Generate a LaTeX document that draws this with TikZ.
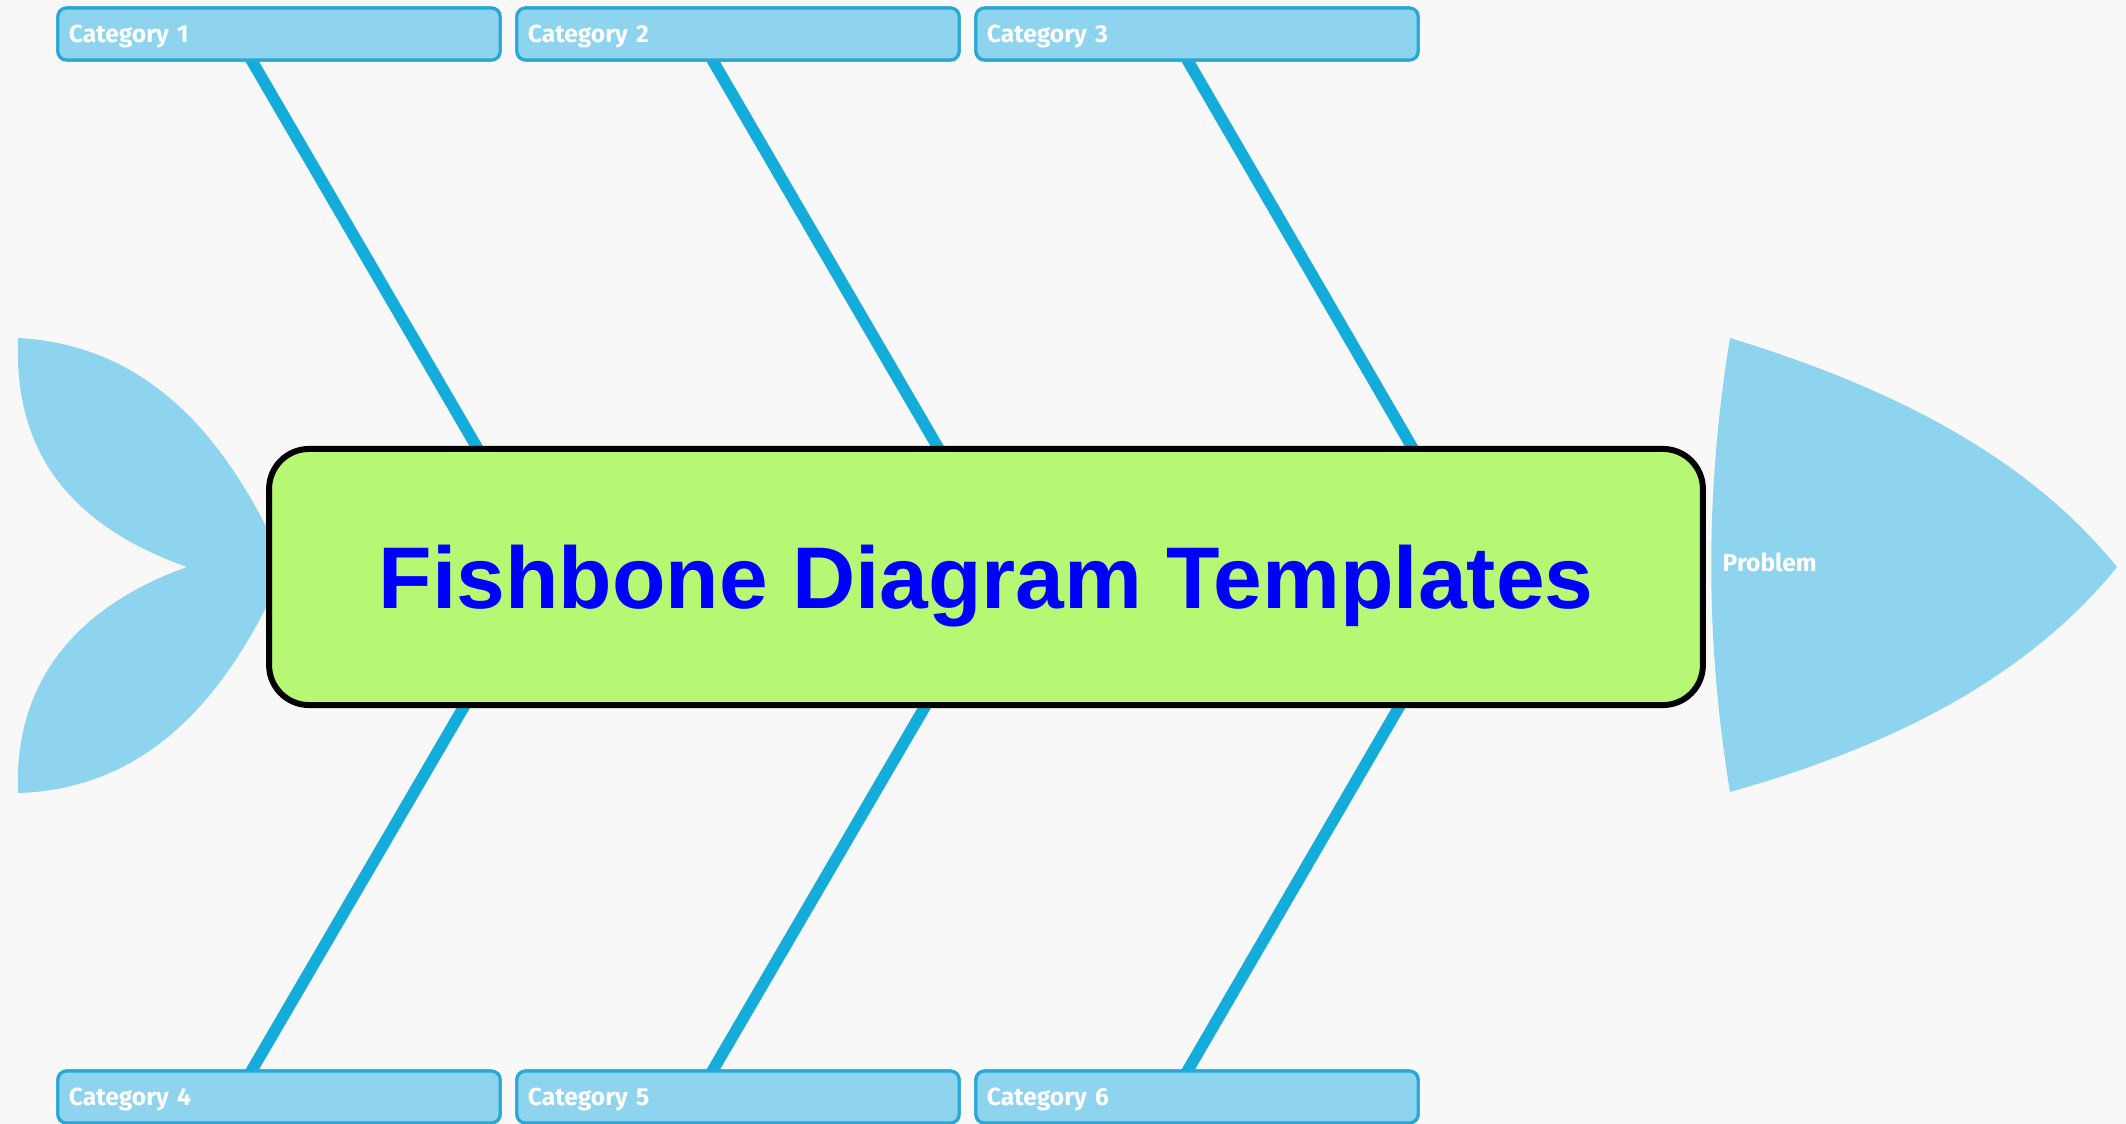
\documentclass[tikz,border=0pt]{standalone}
\usepackage{fontspec}
\setmainfont{Liberation Sans}
\newfontfamily\catfont{Fira Sans}
\usetikzlibrary{calc}
\definecolor{bgc}{HTML}{F8F8F8}
\definecolor{bonec}{RGB}{20,172,218}
\definecolor{finc}{RGB}{143,212,238}
\definecolor{catfill}{RGB}{143,212,238}
\definecolor{catdraw}{RGB}{40,168,214}
\definecolor{titlefill}{RGB}{182,248,116}
\begin{document}
\begin{tikzpicture}[x=0.01cm,y=-0.01cm,
  catbox/.style={draw=catdraw, line width=0.9pt, fill=catfill, rounded corners=2.5pt,
    minimum width=4.42cm, minimum height=0.52cm, text width=4.2cm, align=left,
    inner xsep=0.1cm, text height=4.8pt, text depth=0pt,
    font=\catfont\bfseries\fontsize{7}{8}\selectfont, text=white},
  bone/.style={draw=bonec, line width=3.3pt},
  fin/.style={fill=finc},
  titlebox/.style={draw=black, line width=1.7pt, fill=titlefill, rounded corners=0.4cm,
    minimum width=14.33cm, minimum height=2.56cm, text=blue,
    text height=17.8pt, text depth=0pt,
    font=\bfseries\fontsize{24.9}{30}\selectfont},
  headlabel/.style={text=white, inner sep=0pt, anchor=west,
    font=\catfont\bfseries\fontsize{7}{8}\selectfont}]
\useasboundingbox (0,0) rectangle (2126,1124);
\fill[bgc] (0,0) rectangle (2126,1124);

% category boxes (positions)
\node[catbox] (c1) at (279,34) {Category 1};
\node[catbox] (c2) at (738,34) {Category 2};
\node[catbox] (c3) at (1197,34) {Category 3};
\node[catbox] (c4) at (279,1097) {Category 4};
\node[catbox] (c5) at (738,1097) {Category 5};
\node[catbox] (c6) at (1197,1097) {Category 6};

% spine meeting points and bone ends
\coordinate (m1) at (546,566);
\coordinate (m2) at (1007,566);
\coordinate (m3) at (1481,566);
\coordinate (t1) at ($(c1.south west)+(196,0)$);
\coordinate (t2) at ($(c2.south west)+(198,0)$);
\coordinate (t3) at ($(c3.south west)+(214,0)$);
\coordinate (b1) at ($(c4.north west)+(196,0)$);
\coordinate (b2) at ($(c5.north west)+(198,0)$);
\coordinate (b3) at ($(c6.north west)+(214,0)$);

% bones
\draw[bone] ($(m1)!1.04!(t1)$) -- (m1) -- ($(m1)!1.04!(b1)$);
\draw[bone] ($(m2)!1.04!(t2)$) -- (m2) -- ($(m2)!1.04!(b2)$);
\draw[bone] ($(m3)!1.04!(t3)$) -- (m3) -- ($(m3)!1.04!(b3)$);

% category boxes drawn again on top of the bones
\node[catbox] at (c1) {Category 1};
\node[catbox] at (c2) {Category 2};
\node[catbox] at (c3) {Category 3};
\node[catbox] at (c4) {Category 4};
\node[catbox] at (c5) {Category 5};
\node[catbox] at (c6) {Category 6};

% tail
\fill[fin] (18,338) .. controls (150,345) and (230,440) .. (285,567)
  .. controls (230,694) and (150,789) .. (18,793)
  .. controls (15,720) and (40,620) .. (187,567)
  .. controls (40,515) and (15,420) .. cycle;

% head
\fill[fin] (1730,338) .. controls (1900,390) and (2030,460) .. (2117,567)
  .. controls (2030,674) and (1900,744) .. (1730,792)
  .. controls (1705,640) and (1705,490) .. cycle;
\node[headlabel] (prob) at (1722,562) {Problem};

% title
\node[titlebox] (title) at (986,577) {Fishbone Diagram Templates};
\end{tikzpicture}
\end{document}
